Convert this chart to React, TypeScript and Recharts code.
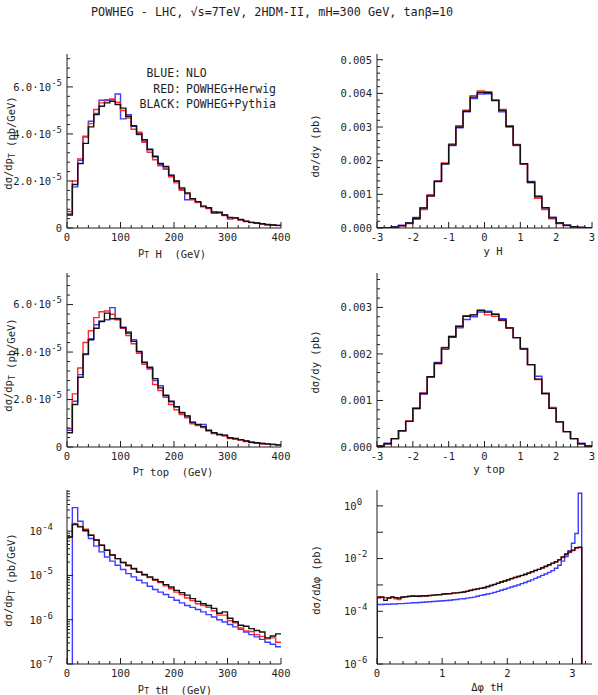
import React from "react"
import { LineChart, Line, XAxis, YAxis } from "recharts"

// ---- bins ----
const PT_EDGES = Array.from({ length: 41 }, (_, i) => i * 10) // 0..400 GeV
const RAP_EDGES = Array.from({ length: 31 }, (_, i) => -3 + i * 0.2) // -3..3
const DPHI_EDGES = Array.from({ length: 61 }, (_, i) => (i * Math.PI) / 60) // 0..pi

// ---- pT H, in 1e-6 pb/GeV ----
const ptHBlue = [6.0, 17.5, 28.8, 38.7, 45.4, 48.7, 54.3, 54.2, 54.6, 57.0, 46.4, 48.2, 43.3, 39.7, 36.9, 33.3, 30.2, 27.0, 25.5, 22.3, 19.9, 16.3, 12.0, 12.3, 11.0, 9.2, 8.5, 6.2, 6.7, 5.4, 3.8, 4.3, 3.5, 2.8, 2.4, 2.1, 1.8, 1.4, 1.3, 1.1]
const ptHRed = [7.0, 20.0, 29.4, 39.0, 44.4, 50.4, 53.2, 54.6, 54.9, 53.5, 50.0, 46.8, 42.0, 40.7, 36.5, 32.2, 29.0, 26.5, 25.0, 21.8, 19.2, 16.0, 14.5, 12.0, 10.8, 9.0, 8.3, 6.5, 6.5, 5.3, 4.3, 4.1, 3.4, 2.7, 2.3, 2.0, 1.7, 1.4, 1.2, 1.0]
const ptHBlack = [5.5, 18.5, 27.4, 36.0, 43.0, 48.2, 51.8, 53.2, 53.9, 52.5, 51.0, 47.5, 43.5, 40.0, 37.5, 33.5, 30.5, 27.5, 26.2, 22.5, 20.0, 17.0, 14.9, 12.5, 11.2, 9.3, 8.6, 6.8, 6.6, 5.5, 4.5, 4.3, 3.6, 2.9, 2.4, 2.1, 1.8, 1.5, 1.3, 1.1]

// ---- y H, in 1e-3 pb ----
const yHBlue = [0.005, 0.01, 0.03, 0.08, 0.15, 0.31, 0.6, 0.98, 1.4, 1.9, 2.45, 2.98, 3.45, 3.85, 3.98, 3.99, 3.8, 3.45, 3.0, 2.45, 1.9, 1.38, 0.95, 0.6, 0.32, 0.15, 0.08, 0.04, 0.02, 0.01]
const yHRed = [0.005, 0.01, 0.02, 0.06, 0.13, 0.26, 0.55, 0.98, 1.39, 1.93, 2.5, 3.04, 3.5, 3.93, 4.07, 4.05, 3.8, 3.52, 3.04, 2.48, 1.9, 1.34, 0.88, 0.55, 0.27, 0.13, 0.07, 0.03, 0.015, 0.005]
const yHBlack = [0.005, 0.01, 0.03, 0.07, 0.15, 0.29, 0.59, 0.95, 1.38, 1.91, 2.47, 3.0, 3.47, 3.89, 4.03, 4.02, 3.79, 3.49, 3.02, 2.47, 1.91, 1.36, 0.93, 0.6, 0.3, 0.15, 0.08, 0.04, 0.02, 0.01]

// ---- pT top, in 1e-6 pb/GeV ----
const ptTopBlue = [7.0, 19.3, 30.5, 38.9, 45.6, 51.5, 53.0, 53.6, 58.7, 54.2, 50.5, 48.5, 45.2, 40.0, 35.5, 33.2, 28.0, 25.8, 21.5, 19.0, 16.8, 14.6, 13.2, 10.3, 9.3, 9.5, 7.1, 6.0, 5.3, 4.9, 3.9, 3.5, 3.0, 2.6, 2.0, 1.8, 1.5, 1.3, 1.1, 0.9]
const ptTopRed = [7.8, 22.4, 33.3, 44.0, 49.0, 54.5, 57.0, 57.3, 55.9, 53.6, 50.0, 47.0, 43.5, 39.5, 34.8, 32.8, 26.3, 23.8, 20.9, 17.9, 15.7, 13.7, 12.3, 9.8, 9.0, 8.2, 6.7, 5.7, 5.0, 4.6, 3.6, 3.3, 2.8, 2.3, 1.9, 1.6, 1.4, 1.2, 1.0, 0.8]
const ptTopBlack = [6.0, 17.9, 29.4, 39.2, 45.2, 50.0, 52.9, 56.4, 54.0, 54.0, 50.3, 48.0, 44.5, 40.3, 35.7, 33.6, 28.8, 24.9, 21.8, 19.3, 17.0, 14.4, 13.0, 10.5, 9.5, 8.6, 7.0, 6.0, 5.3, 5.0, 3.9, 3.6, 3.1, 2.5, 2.0, 1.8, 1.5, 1.3, 1.1, 0.9]

// ---- y top, in 1e-3 pb ----
const yTopBlue = [0.02, 0.08, 0.18, 0.35, 0.55, 0.82, 1.14, 1.5, 1.82, 2.1, 2.36, 2.56, 2.74, 2.8, 2.9, 2.92, 2.86, 2.76, 2.56, 2.35, 2.12, 1.77, 1.52, 1.15, 0.83, 0.54, 0.33, 0.18, 0.08, 0.02]
const yTopRed = [0.02, 0.07, 0.18, 0.35, 0.56, 0.84, 1.16, 1.5, 1.79, 2.14, 2.38, 2.6, 2.82, 2.84, 2.92, 2.84, 2.81, 2.72, 2.55, 2.35, 2.1, 1.77, 1.45, 1.15, 0.85, 0.54, 0.33, 0.18, 0.07, 0.02]
const yTopBlack = [0.02, 0.07, 0.18, 0.35, 0.55, 0.83, 1.15, 1.51, 1.8, 2.13, 2.37, 2.59, 2.81, 2.84, 2.94, 2.9, 2.85, 2.73, 2.56, 2.35, 2.11, 1.77, 1.46, 1.15, 0.83, 0.54, 0.33, 0.18, 0.07, 0.02]

// ---- pT tH (log), pb/GeV ----
const ptTHBlue = [0, 3.4e-4, 1.68e-4, 1.0e-4, 6.8e-5, 4.6e-5, 3.4e-5, 2.6e-5, 2.1e-5, 1.7e-5, 1.36e-5, 1.1e-5, 9.3e-6, 7.8e-6, 6.8e-6, 5.7e-6, 4.8e-6, 4.2e-6, 3.7e-6, 3.2e-6, 2.75e-6, 2.4e-6, 2.1e-6, 1.9e-6, 1.7e-6, 1.5e-6, 1.3e-6, 1.15e-6, 1.0e-6, 8.9e-7, 7.8e-7, 6.9e-7, 6.1e-7, 5.3e-7, 4.6e-7, 4.1e-7, 3.6e-7, 3.1e-7, 2.8e-7, 2.45e-7]
const ptTHRed = [7.4e-5, 1.5e-4, 1.28e-4, 1.1e-4, 8.1e-5, 6.3e-5, 4.8e-5, 3.7e-5, 2.9e-5, 2.4e-5, 1.96e-5, 1.65e-5, 1.4e-5, 1.18e-5, 1.02e-5, 9.0e-6, 7.8e-6, 6.9e-6, 5.8e-6, 5.0e-6, 4.2e-6, 3.7e-6, 3.1e-6, 2.7e-6, 2.3e-6, 2.1e-6, 1.9e-6, 1.6e-6, 1.27e-6, 1.27e-6, 9.5e-7, 8.5e-7, 6.5e-7, 5.6e-7, 5.4e-7, 4.6e-7, 4.2e-7, 3.7e-7, 3.9e-7, 3.1e-7]
const ptTHBlack = [7.4e-5, 1.41e-4, 1.25e-4, 1.05e-4, 8.1e-5, 6.3e-5, 4.8e-5, 3.7e-5, 2.9e-5, 2.4e-5, 1.96e-5, 1.7e-5, 1.43e-5, 1.2e-5, 1.05e-5, 9.3e-6, 8.1e-6, 7.2e-6, 6.2e-6, 5.5e-6, 4.6e-6, 4.1e-6, 3.6e-6, 3.0e-6, 2.6e-6, 2.3e-6, 2.1e-6, 1.8e-6, 1.4e-6, 1.5e-6, 1.08e-6, 9.0e-7, 7.5e-7, 7.1e-7, 6.3e-7, 5.7e-7, 5.3e-7, 3.9e-7, 4.3e-7, 4.8e-7]

// ---- delta phi tH (log), pb ----
const dphiBlue = [1.82e-4, 1.82e-4, 1.86e-4, 1.86e-4, 1.9e-4, 1.9e-4, 1.95e-4, 1.95e-4, 2.0e-4, 2.04e-4, 2.1e-4, 2.1e-4, 2.15e-4, 2.2e-4, 2.25e-4, 2.3e-4, 2.35e-4, 2.4e-4, 2.45e-4, 2.5e-4, 2.57e-4, 2.63e-4, 2.75e-4, 2.8e-4, 2.95e-4, 3.0e-4, 3.15e-4, 3.3e-4, 3.45e-4, 3.7e-4, 4.0e-4, 4.25e-4, 4.5e-4, 4.8e-4, 5.2e-4, 5.7e-4, 6.3e-4, 6.9e-4, 7.6e-4, 8.3e-4, 9.1e-4, 1.0e-3, 1.12e-3, 1.23e-3, 1.38e-3, 1.55e-3, 1.78e-3, 2.0e-3, 2.3e-3, 2.6e-3, 3.0e-3, 3.5e-3, 4.3e-3, 5.6e-3, 8.0e-3, 1.2e-2, 2.0e-2, 3.8e-2, 9.0e-2, 3.0]
const dphiRed = [3.2e-4, 3.5e-4, 3.3e-4, 3.1e-4, 3.4e-4, 3.0e-4, 2.8e-4, 3.3e-4, 3.5e-4, 3.6e-4, 3.7e-4, 3.8e-4, 3.6e-4, 3.8e-4, 3.9e-4, 3.9e-4, 4.0e-4, 4.2e-4, 4.2e-4, 4.4e-4, 4.6e-4, 4.6e-4, 5.0e-4, 5.1e-4, 5.1e-4, 5.4e-4, 5.8e-4, 6.1e-4, 6.6e-4, 7.0e-4, 7.6e-4, 8.0e-4, 8.5e-4, 9.6e-4, 1.03e-3, 1.15e-3, 1.3e-3, 1.43e-3, 1.55e-3, 1.75e-3, 1.95e-3, 2.1e-3, 2.25e-3, 2.55e-3, 2.85e-3, 3.1e-3, 3.6e-3, 3.9e-3, 4.4e-3, 5.1e-3, 5.7e-3, 6.7e-3, 7.4e-3, 9.0e-3, 1.1e-2, 1.4e-2, 1.7e-2, 2.0e-2, 2.5e-2, 2.6e-2]
const dphiBlack = [3.5e-4, 3.4e-4, 2.6e-4, 3.2e-4, 3.5e-4, 3.3e-4, 3.2e-4, 3.5e-4, 3.6e-4, 3.7e-4, 3.8e-4, 3.7e-4, 3.8e-4, 3.9e-4, 3.8e-4, 4.0e-4, 4.1e-4, 4.2e-4, 4.3e-4, 4.5e-4, 4.6e-4, 4.7e-4, 4.9e-4, 5.0e-4, 5.2e-4, 5.4e-4, 5.7e-4, 6.3e-4, 6.8e-4, 7.1e-4, 7.4e-4, 7.8e-4, 8.7e-4, 9.5e-4, 1.05e-3, 1.17e-3, 1.29e-3, 1.41e-3, 1.58e-3, 1.74e-3, 1.9e-3, 2.1e-3, 2.3e-3, 2.5e-3, 2.8e-3, 3.2e-3, 3.5e-3, 3.9e-3, 4.5e-3, 5.0e-3, 5.8e-3, 6.6e-3, 7.6e-3, 8.9e-3, 1.15e-2, 1.5e-2, 1.8e-2, 2.1e-2, 2.6e-2, 2.7e-2]

const INK = "#1e1e1e"
const FONT = "'DejaVu Sans Mono', monospace"
const BLUE = "#3c3cff"
const RED = "#ff2b2b"
const BLACK = "#111111"
const LOG_FLOOR = 1e-12 // empty bins on log axes sit below the frame

type Row = { x: number; blue: number; red: number; black: number }

function histRows(edges: number[], blue: number[], red: number[], black: number[], opts: { log?: boolean; openStart?: boolean; closeEnd?: boolean } = {}) {
  const fix = (v: number) => (opts.log && v <= 0 ? LOG_FLOOR : v)
  const rows: Row[] = []
  if (opts.openStart) rows.push({ x: edges[0], blue: LOG_FLOOR, red: LOG_FLOOR, black: LOG_FLOOR })
  blue.forEach((_, i) => rows.push({ x: edges[i], blue: fix(blue[i]), red: fix(red[i]), black: fix(black[i]) }))
  const n = blue.length
  if (opts.closeEnd) rows.push({ x: edges[n], blue: LOG_FLOOR, red: LOG_FLOOR, black: LOG_FLOOR })
  else rows.push({ x: edges[n], blue: fix(blue[n - 1]), red: fix(red[n - 1]), black: fix(black[n - 1]) })
  return rows
}

function near(list: number[], v: number) {
  return list.some((m) => Math.abs(m - v) <= Math.abs(m) * 1e-6 + 1e-13)
}

function steps(from: number, to: number, step: number, skipEvery: number) {
  const out: number[] = []
  for (let i = Math.round(from / step); i <= Math.round(to / step); i++) {
    if (i % skipEvery !== 0) out.push(i * step)
  }
  return out
}

function sup(base: string, exp: string) {
  return [
    <tspan key="b">{base}</tspan>,
    <tspan key="e" dy={-5} fontSize={9}>{exp}</tspan>,
  ]
}

type TickSpec = {
  major: number[]
  minor: number[]
  fmt?: (v: number) => React.ReactNode
  anchor?: "end" | "start"
  gap?: number
}

const MAJ = 6
const MIN = 3

const bottomTick = (s: TickSpec) => (p: any) => {
  const v = p.payload.value
  const major = near(s.major, v)
  return (
    <g>
      <line x1={p.x} x2={p.x} y1={p.y} y2={p.y - (major ? MAJ : MIN)} stroke={INK} />
      {major && s.fmt && (
        <text x={p.x} y={p.y + 13} textAnchor="middle" fontFamily={FONT} fontSize={10.5} fill={INK}>{s.fmt(v)}</text>
      )}
    </g>
  )
}

const topTick = (s: TickSpec) => (p: any) => {
  const major = near(s.major, p.payload.value)
  return <line x1={p.x} x2={p.x} y1={p.y} y2={p.y + (major ? MAJ : MIN)} stroke={INK} />
}

const leftTick = (s: TickSpec) => (p: any) => {
  const v = p.payload.value
  const major = near(s.major, v)
  return (
    <g>
      <line x1={p.x} x2={p.x + (major ? MAJ : MIN)} y1={p.y} y2={p.y} stroke={INK} />
      {major && s.fmt && (
        <text x={p.x - (s.gap ?? 5)} y={p.y + 3.8} textAnchor={s.anchor ?? "end"} fontFamily={FONT} fontSize={10.5} fill={INK}>{s.fmt(v)}</text>
      )}
    </g>
  )
}

const rightTick = (s: TickSpec) => (p: any) => {
  const major = near(s.major, p.payload.value)
  return <line x1={p.x} x2={p.x - (major ? MAJ : MIN)} y1={p.y} y2={p.y} stroke={INK} />
}

// ---- tick sets ----
const ptTicks: TickSpec = { major: [0, 100, 200, 300, 400], minor: steps(0, 400, 20, 5), fmt: (v) => String(v) }
const rapTicks: TickSpec = { major: [-3, -2, -1, 0, 1, 2, 3], minor: steps(-3, 3, 0.2, 5), fmt: (v) => String(Math.round(v)) }
const dphiTicks: TickSpec = { major: [0, 1, 2, 3], minor: steps(0, 3.2, 0.2, 5), fmt: (v) => String(Math.round(v)) }
const fmtE5 = (v: number) => (v === 0 ? "0" : sup(`${(v / 10).toFixed(1)}·10`, "-5"))
const ptYTicks: TickSpec = { major: [0, 20, 40, 60], minor: steps(0, 72, 4, 5), fmt: fmtE5 }
const fmtMilli = (v: number) => (v / 1000).toFixed(3)
const yHYTicks: TickSpec = { major: [0, 1, 2, 3, 4, 5], minor: steps(0, 5, 0.2, 5), fmt: fmtMilli }
const yTopYTicks: TickSpec = { major: [0, 1, 2, 3], minor: steps(0, 3.6, 0.2, 5), fmt: fmtMilli }
const decades = (lo: number, hi: number) => Array.from({ length: hi - lo + 1 }, (_, i) => Math.pow(10, lo + i))
const ptTHMinor: number[] = []
decades(-7, -4).forEach((d) => {
  for (let k = 2; k <= 9; k++) if (k * d < 8.4e-4) ptTHMinor.push(k * d)
})
const expOf = (v: number) => Math.round(Math.log10(v))
const ptTHYTicks: TickSpec = { major: decades(-7, -4), minor: ptTHMinor, fmt: (v) => sup("10", String(expOf(v))), gap: 14 }
const dphiYTicks: TickSpec = {
  major: decades(-6, 0),
  minor: [],
  fmt: (v) => (expOf(v) % 2 === 0 ? sup("10", String(expOf(v))) : null),
  anchor: "start",
  gap: 33,
}

type PanelProps = {
  left: number
  top: number
  width: number
  axisW: number
  plotW: number
  rows: Row[]
  xDomain: [number, number]
  yDomain: [number, number]
  xt: TickSpec
  yt: TickSpec
  log?: boolean
}

const PLOT_H = 174

function Panel({ left, top, width, axisW, plotW, rows, xDomain, yDomain, xt, yt, log }: PanelProps) {
  const height = 10 + PLOT_H + 30
  const xTicks = [...xt.major, ...xt.minor].sort((a, b) => a - b)
  const yTicks = [...yt.major, ...yt.minor].sort((a, b) => a - b)
  const scale = log ? "log" : "linear"
  return (
    <div style={{ position: "absolute", left, top, width, height }}>
      <LineChart width={width} height={height} data={rows} margin={{ top: 10, right: width - axisW - plotW, bottom: 0, left: 0 }}>
        <XAxis xAxisId="b" dataKey="x" type="number" domain={xDomain} allowDataOverflow ticks={xTicks} interval={0}
          tickLine={false} tickSize={0} tickMargin={0} height={30} axisLine={{ stroke: INK }} tick={bottomTick(xt)} />
        <XAxis xAxisId="t" orientation="top" dataKey="x" type="number" domain={xDomain} allowDataOverflow ticks={xTicks} interval={0}
          tickLine={false} tickSize={0} tickMargin={0} height={0} axisLine={{ stroke: INK }} tick={topTick(xt)} />
        <YAxis yAxisId="l" type="number" scale={scale} domain={yDomain} allowDataOverflow ticks={yTicks} interval={0}
          tickLine={false} tickSize={0} tickMargin={0} width={axisW} axisLine={{ stroke: INK }} tick={leftTick(yt)} />
        <YAxis yAxisId="r" orientation="right" type="number" scale={scale} domain={yDomain} allowDataOverflow ticks={yTicks} interval={0}
          tickLine={false} tickSize={0} tickMargin={0} width={0} axisLine={{ stroke: INK }} tick={rightTick(yt)} />
        <Line xAxisId="t" yAxisId="r" type="stepAfter" dataKey="black" stroke="none" dot={false} activeDot={false} isAnimationActive={false} />
        <Line xAxisId="b" yAxisId="l" type="stepAfter" dataKey="blue" stroke={BLUE} strokeWidth={1.4} dot={false} isAnimationActive={false} />
        <Line xAxisId="b" yAxisId="l" type="stepAfter" dataKey="red" stroke={RED} strokeWidth={1.4} dot={false} isAnimationActive={false} />
        <Line xAxisId="b" yAxisId="l" type="stepAfter" dataKey="black" stroke={BLACK} strokeWidth={1.4} dot={false} isAnimationActive={false} />
      </LineChart>
    </div>
  )
}

function YLabel({ x, y, children }: { x: number; y: number; children: React.ReactNode }) {
  return (
    <text transform={`translate(${x},${y}) rotate(-90)`} textAnchor="middle" dy="0.35em" fontFamily={FONT} fontSize={10.5} fill={INK}>
      {children}
    </text>
  )
}

function XLabel({ x, y, children }: { x: number; y: number; children: React.ReactNode }) {
  return (
    <text x={x} y={y} textAnchor="middle" fontFamily={FONT} fontSize={10.5} fill={INK} style={{ whiteSpace: "pre" }}>
      {children}
    </text>
  )
}

const sub = (t: string) => [<tspan key="s" dy={3} fontSize={8}>{t}</tspan>, <tspan key="r" dy={-3}></tspan>]

export default function App() {
  const L = { left: 0, width: 300, axisW: 67, plotW: 214 }
  const R = { left: 300, width: 298, axisW: 77, plotW: 215 }
  return (
    <div style={{ position: "absolute", left: 0, top: 0, width: 598, height: 695, background: "#fff", overflow: "hidden" }}>
      <Panel {...L} top={44} rows={histRows(PT_EDGES, ptHBlue, ptHRed, ptHBlack)} xDomain={[0, 400]} yDomain={[0, 74]} xt={ptTicks} yt={ptYTicks} />
      <Panel {...R} top={44} rows={histRows(RAP_EDGES, yHBlue, yHRed, yHBlack)} xDomain={[-3, 3]} yDomain={[0, 5.17]} xt={rapTicks} yt={yHYTicks} />
      <Panel {...L} top={263} rows={histRows(PT_EDGES, ptTopBlue, ptTopRed, ptTopBlack)} xDomain={[0, 400]} yDomain={[0, 73.3]} xt={ptTicks} yt={ptYTicks} />
      <Panel {...R} top={263} rows={histRows(RAP_EDGES, yTopBlue, yTopRed, yTopBlack)} xDomain={[-3, 3]} yDomain={[0, 3.74]} xt={rapTicks} yt={yTopYTicks} />
      <Panel {...L} top={480} log rows={histRows(PT_EDGES, ptTHBlue, ptTHRed, ptTHBlack, { log: true, openStart: true })} xDomain={[0, 400]} yDomain={[1e-7, 8.5e-4]} xt={ptTicks} yt={ptTHYTicks} />
      <Panel {...R} top={480} log rows={histRows(DPHI_EDGES, dphiBlue, dphiRed, dphiBlack, { log: true, openStart: true, closeEnd: true })} xDomain={[0, 3.3]} yDomain={[1e-6, 4]} xt={dphiTicks} yt={dphiYTicks} />

      <svg width={598} height={695} style={{ position: "absolute", left: 0, top: 0, pointerEvents: "none" }}>
        <text x={91} y={15.5} fontFamily={FONT} fontSize={11.8} fill={INK} style={{ whiteSpace: "pre" }}>
          POWHEG - LHC, √s=7TeV, 2HDM-II, mH=300 GeV, tanβ=10
        </text>

        <g fontFamily={FONT} fontSize={11.5} fill={INK}>
          <text x={181} y={76.5} textAnchor="end">BLUE:</text>
          <text x={186} y={76.5}>NLO</text>
          <text x={181} y={92.5} textAnchor="end">RED:</text>
          <text x={186} y={92.5}>POWHEG+Herwig</text>
          <text x={181} y={107.5} textAnchor="end">BLACK:</text>
          <text x={186} y={107.5}>POWHEG+Pythia</text>
        </g>

        <YLabel x={8} y={143}>dσ/dp{sub("T")}  (pb/GeV)</YLabel>
        <YLabel x={315} y={146}>dσ/dy  (pb)</YLabel>
        <YLabel x={8} y={365}>dσ/dp{sub("T")}  (pb/GeV)</YLabel>
        <YLabel x={315} y={362}>dσ/dy  (pb)</YLabel>
        <YLabel x={8} y={580}>dσ/dp{sub("T")}  (pb/GeV)</YLabel>
        <YLabel x={316} y={580}>dσ/dΔφ  (pb)</YLabel>

        <XLabel x={172} y={254.5}>p{sub("T")} H  (GeV)</XLabel>
        <XLabel x={493} y={254.5}>y H</XLabel>
        <XLabel x={173} y={473}>p{sub("T")} top  (GeV)</XLabel>
        <XLabel x={489} y={473}>y top</XLabel>
        <XLabel x={175} y={690.5}>p{sub("T")} tH  (GeV)</XLabel>
        <XLabel x={487} y={690.5}>Δφ tH</XLabel>
      </svg>
    </div>
  )
}
